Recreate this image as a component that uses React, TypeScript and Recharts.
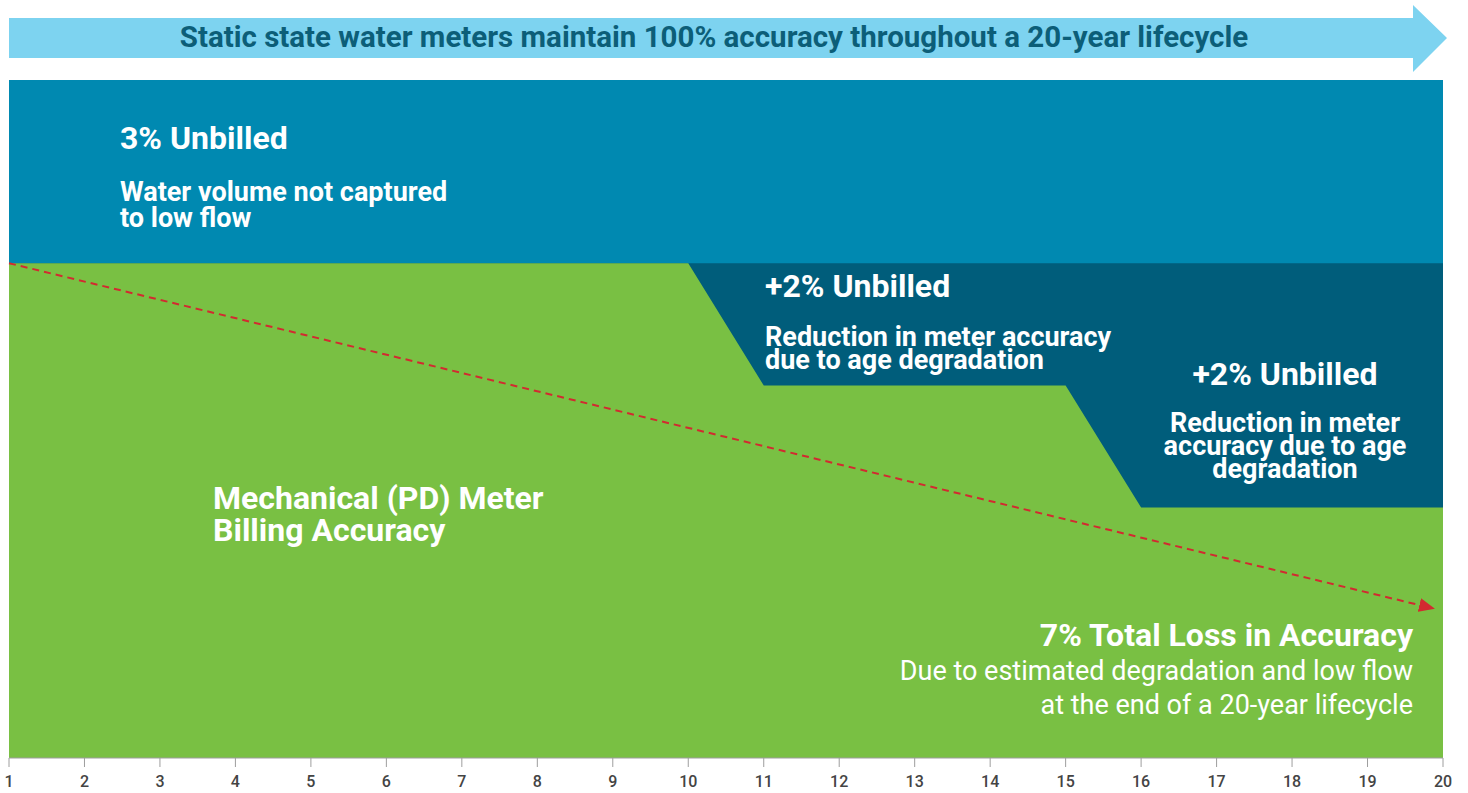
import React from "react";
import { Area, ComposedChart, Line, XAxis, YAxis } from "recharts";

// meter years on the x axis
const years = [1, 2, 3, 4, 5, 6, 7, 8, 9, 10, 11, 12, 13, 14, 15, 16, 17, 18, 19, 20];
// full volume (100%)
const fullVolume = [100, 100, 100, 100, 100, 100, 100, 100, 100, 100, 100, 100, 100, 100, 100, 100, 100, 100, 100, 100];
// after 3% low-flow loss
const afterLowFlow = [97, 97, 97, 97, 97, 97, 97, 97, 97, 97, 97, 97, 97, 97, 97, 97, 97, 97, 97, 97];
// mechanical meter billed accuracy
const billedAccuracy = [97, 97, 97, 97, 97, 97, 97, 97, 97, 97, 95, 95, 95, 95, 95, 93, 93, 93, 93, 93];
// dashed trend arrow
const trendYears = [1, 19.7];
const trendValues = [97, 91.4];

const data = years.map((year, i) => ({
  year,
  total: fullVolume[i],
  lowFlow: afterLowFlow[i],
  billed: billedAccuracy[i],
}));

const trendData = trendYears.map((year, i) => ({ year, trend: trendValues[i] }));

const textBase: React.CSSProperties = {
  position: "absolute",
  color: "#ffffff",
  fontFamily: "Roboto, sans-serif",
  fontWeight: 700,
  whiteSpace: "nowrap",
  pointerEvents: "none",
};

const YearTick = ({ x, y, payload }: any) => (
  <text
    x={x}
    y={y}
    dy={12}
    textAnchor="middle"
    fill="#444444"
    fontSize={16}
    fontWeight={500}
    fontFamily="Roboto, sans-serif"
  >
    {payload.value}
  </text>
);

export default function App() {
  return (
    <div
      style={{
        position: "absolute",
        left: 0,
        top: 0,
        width: 1468,
        height: 793,
        background: "#ffffff",
        fontFamily: "Roboto, sans-serif",
      }}
    >
      <ComposedChart
        width={1468}
        height={793}
        data={data}
        margin={{ top: 80, right: 25, left: 9, bottom: 5 }}
      >
        <defs>
          <marker
            id="trendArrow"
            markerWidth="16"
            markerHeight="14"
            refX="1"
            refY="7"
            orient="auto"
            markerUnits="userSpaceOnUse"
          >
            <path d="M0,0 L16,7 L0,14 z" fill="#D22A30" />
          </marker>
        </defs>
        <XAxis
          dataKey="year"
          type="number"
          domain={[1, 20]}
          ticks={years}
          interval={0}
          height={30}
          stroke="#9e9e9e"
          tickSize={9}
          tickMargin={8}
          tick={<YearTick />}
        />
        <YAxis hide type="number" domain={[88.9, 100]} allowDataOverflow />
        <Area
          type="linear"
          dataKey="total"
          stroke="none"
          fill="#0089B1"
          fillOpacity={1}
          baseValue="dataMin"
          isAnimationActive={false}
        />
        <Area
          type="linear"
          dataKey="lowFlow"
          stroke="none"
          fill="#005D7B"
          fillOpacity={1}
          baseValue="dataMin"
          isAnimationActive={false}
        />
        <Area
          type="linear"
          dataKey="billed"
          stroke="none"
          fill="#79C043"
          fillOpacity={1}
          baseValue="dataMin"
          isAnimationActive={false}
        />
        <Line
          data={trendData}
          type="linear"
          dataKey="trend"
          stroke="#D22A30"
          strokeWidth={2}
          strokeDasharray="7 5"
          dot={false}
          activeDot={false}
          markerEnd="url(#trendArrow)"
          isAnimationActive={false}
        />
      </ComposedChart>

      <svg
        width={1468}
        height={80}
        style={{ position: "absolute", left: 0, top: 0, pointerEvents: "none" }}
      >
        <polygon
          points="9,18 1413,18 1413,5 1447,38 1413,72 1413,58 9,58"
          fill="#7DD3F0"
        />
      </svg>
      <div
        style={{
          ...textBase,
          color: "#0C5E78",
          fontSize: 29.5,
          lineHeight: "30px",
          left: 9,
          width: 1410,
          top: 22,
          textAlign: "center",
        }}
      >
        Static state water meters maintain 100% accuracy throughout a 20-year lifecycle
      </div>

      <div style={{ ...textBase, fontSize: 32, lineHeight: "32px", left: 120, top: 122 }}>
        3% Unbilled
      </div>
      <div style={{ ...textBase, fontSize: 27, lineHeight: "26px", left: 120, top: 179 }}>
        Water volume not captured
        <br />
        to low flow
      </div>

      <div style={{ ...textBase, fontSize: 32, lineHeight: "32px", left: 765, top: 270 }}>
        +2% Unbilled
      </div>
      <div style={{ ...textBase, fontSize: 27, lineHeight: "23px", left: 765, top: 326 }}>
        Reduction in meter accuracy
        <br />
        due to age degradation
      </div>

      <div
        style={{
          ...textBase,
          fontSize: 32,
          lineHeight: "32px",
          left: 1135,
          width: 300,
          top: 358,
          textAlign: "center",
        }}
      >
        +2% Unbilled
      </div>
      <div
        style={{
          ...textBase,
          fontSize: 27,
          lineHeight: "23px",
          left: 1135,
          width: 300,
          top: 412,
          textAlign: "center",
        }}
      >
        Reduction in meter
        <br />
        accuracy due to age
        <br />
        degradation
      </div>

      <div style={{ ...textBase, fontSize: 32, lineHeight: "32px", left: 213, top: 482 }}>
        Mechanical (PD) Meter
        <br />
        Billing Accuracy
      </div>

      <div
        style={{
          ...textBase,
          fontSize: 32,
          lineHeight: "32px",
          right: 1468 - 1413,
          top: 619,
          textAlign: "right",
        }}
      >
        7% Total Loss in Accuracy
      </div>
      <div
        style={{
          ...textBase,
          fontSize: 27,
          fontWeight: 400,
          lineHeight: "34px",
          right: 1468 - 1413,
          top: 654,
          textAlign: "right",
        }}
      >
        Due to estimated degradation and low flow
        <br />
        at the end of a 20-year lifecycle
      </div>
    </div>
  );
}
